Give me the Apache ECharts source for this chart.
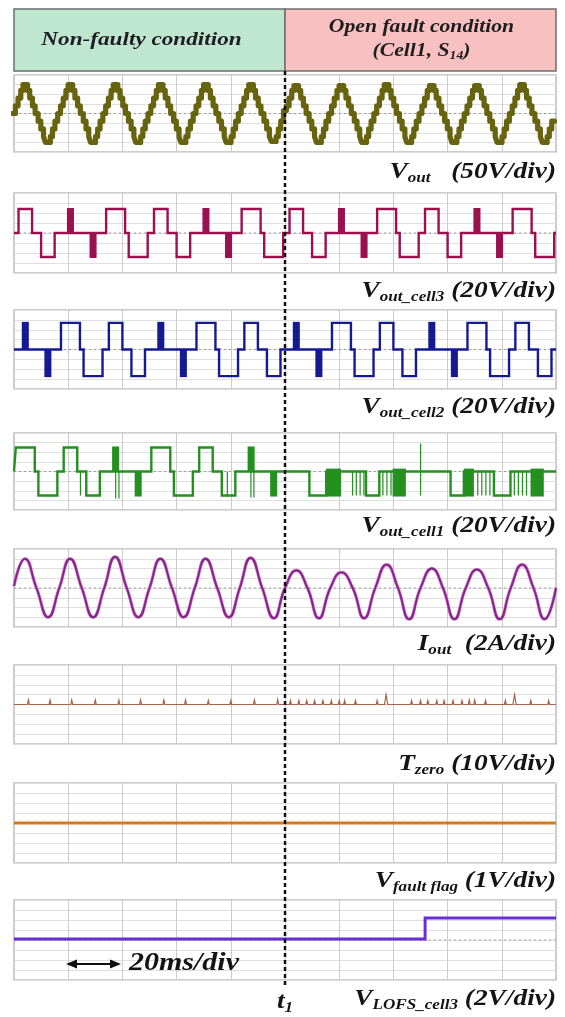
<!DOCTYPE html>
<html><head><meta charset="utf-8">
<script src="https://cdn.jsdelivr.net/npm/echarts@6/dist/echarts.min.js"></script>
<style>html,body{margin:0;padding:0;background:#fff}#c{width:565px;height:1017px}</style>
</head><body><div id="c"></div>
<script>
// ---------- axes ----------
const timeRangeMs = [0, 200];
const msPerDiv = 20;
const divRange = [-4, 4];
const t1Ms = 100;

// ---------- Vout (50 V/div) staircase ----------
const voutPeriodMs = 16.67;
const voutCycleStartMs = [0, 16.67, 33.33, 50, 66.67, 83.33, 100, 116.67, 133.33, 150, 166.67, 183.33];
const voutStepStartMs = [-0.55, 0.5, 1.5, 2.5, 3.3, 5.0, 5.8, 6.8, 7.8, 8.9, 9.9, 10.9, 11.6, 13.4, 14.2, 15.1];
const voutStepLevels = [
  [0, 0.8, 1.6, 2.4, 3.0, 2.4, 1.6, 0.8, 0, -0.8, -1.6, -2.4, -3.0, -2.4, -1.6, -0.8],
  [0, 0.8, 1.6, 2.4, 3.0, 2.4, 1.6, 0.8, 0, -0.8, -1.6, -2.4, -3.0, -2.4, -1.6, -0.8],
  [0, 0.8, 1.6, 2.4, 3.0, 2.4, 1.6, 0.8, 0, -0.8, -1.6, -2.4, -3.0, -2.4, -1.6, -0.8],
  [0, 0.8, 1.6, 2.4, 3.0, 2.4, 1.6, 0.8, 0, -0.8, -1.6, -2.4, -3.0, -2.4, -1.6, -0.8],
  [0, 0.8, 1.6, 2.4, 3.0, 2.4, 1.6, 0.8, 0, -0.8, -1.6, -2.4, -3.0, -2.4, -1.6, -0.8],
  [0, 0.8, 1.6, 2.4, 3.0, 2.4, 1.6, 0.8, 0, -0.8, -1.6, -2.4, -2.9, -2.4, -1.6, -0.8],
  [0.3, 0.8, 1.6, 2.4, 2.9, 2.4, 1.6, 0.8, 0, -0.8, -1.6, -2.4, -3.0, -2.4, -1.6, -0.8],
  [0, 0.8, 1.6, 2.4, 2.9, 2.4, 1.6, 0.8, 0, -0.8, -1.6, -2.4, -3.0, -2.4, -1.6, -0.8],
  [0, 0.8, 1.6, 2.4, 3.0, 2.4, 1.6, 0.8, 0, -0.8, -1.6, -2.4, -3.0, -2.4, -1.6, -0.8],
  [0, 0.8, 1.6, 2.4, 2.9, 2.4, 1.6, 0.8, 0, -0.8, -1.6, -2.4, -3.0, -2.4, -1.6, -0.8],
  [0, 0.8, 1.6, 2.4, 2.9, 2.4, 1.6, 0.8, 0, -0.8, -1.6, -2.4, -3.0, -2.4, -1.6, -0.8],
  [0, 0.8, 1.6, 2.4, 3.0, 2.4, 1.6, 0.8, 0, -0.8, -1.6, -2.4, -3.0, -2.4, -1.6, -0.8]
];

// ---------- cell outputs (20 V/div): solid pulses [startMs, endMs, div] ----------
const cell3Pulses = [
  [1.67, 6.67, 2.4], [10.0, 15.0, -2.4], [34.0, 41.0, 2.4], [42.33, 49.33, -2.4],
  [51.67, 56.67, 2.4], [60.0, 65.0, -2.4], [84.0, 91.0, 2.4], [92.33, 99.33, -2.4],
  [101.67, 106.67, 2.4], [110.0, 115.0, -2.4], [134.0, 141.0, 2.4], [142.33, 149.33, -2.4],
  [151.67, 156.67, 2.4], [160.0, 165.0, -2.4], [184.0, 191.0, 2.4], [192.33, 199.33, -2.4]
];
// PWM / switching blocks [startMs, endMs, lowDiv, highDiv]
const cell3Blocks = [
  [19.53, 22.13, 0, 2.5], [27.87, 30.47, -2.5, 0], [69.53, 72.13, 0, 2.5], [77.87, 80.47, -2.5, 0],
  [119.53, 122.13, 0, 2.5], [127.87, 130.47, -2.5, 0], [169.53, 172.13, 0, 2.5], [177.87, 180.47, -2.5, 0]
];
const cell2Pulses = [
  [17.33, 24.33, 2.7], [25.67, 32.67, -2.7], [35.0, 40.0, 2.7], [43.33, 48.33, -2.7],
  [67.33, 74.33, 2.7], [75.67, 82.67, -2.7], [85.0, 90.0, 2.7], [93.33, 98.33, -2.7],
  [117.33, 124.33, 2.7], [125.67, 132.67, -2.7], [135.0, 140.0, 2.7], [143.33, 148.33, -2.7],
  [167.33, 174.33, 2.7], [175.67, 182.67, -2.7], [185.0, 190.0, 2.7], [193.33, 198.33, -2.7]
];
const cell2Blocks = [
  [2.87, 5.47, 0, 2.8], [11.2, 13.8, -2.8, 0], [52.87, 55.47, 0, 2.8], [61.2, 63.8, -2.8, 0],
  [102.87, 105.47, 0, 2.8], [111.2, 113.8, -2.8, 0], [152.87, 155.47, 0, 2.8], [161.2, 163.8, -2.8, 0]
];
const cell1Pulses = [
  [0.67, 7.67, 2.5], [9.0, 16.0, -2.5], [18.33, 23.33, 2.5], [26.67, 31.67, -2.5],
  [50.67, 57.67, 2.5], [59.0, 66.0, -2.5], [68.33, 73.33, 2.5], [76.67, 81.67, -2.5],
  [109.0, 115.2, -2.5], [129.9, 134.8, -2.5], [161.1, 166.0, -2.5], [177.1, 183.2, -2.5]
];
const cell1Blocks = [
  [36.2, 38.8, 0, 2.6], [44.53, 47.13, -2.6, 0], [86.2, 88.8, 0, 2.6], [94.53, 97.13, -2.6, 0],
  [24.3, 24.6, -2.5, 0], [37.3, 37.6, -2.8, 0], [38.5, 38.8, -2.8, 0], [78.5, 78.8, -2.6, 0],
  [87.2, 87.5, -2.7, 0], [88.3, 88.6, -2.7, 0],
  [115.2, 120.7, -2.6, 0.3], [124.7, 125.0, -2.5, 0], [126.1, 126.4, -2.5, 0], [127.5, 127.8, -2.5, 0],
  [128.9, 129.2, -2.5, 0], [135.9, 136.2, -2.5, 0], [137.4, 137.7, -2.5, 0], [138.9, 139.2, -2.5, 0],
  [139.7, 144.6, -2.6, 0.3], [149.8, 150.1, -2.5, 2.9], [166.0, 169.7, -2.6, 0.3],
  [170.9, 171.2, -2.5, 0], [172.4, 172.7, -2.5, 0], [173.9, 174.2, -2.5, 0], [175.4, 175.7, -2.5, 0],
  [184.4, 184.7, -2.5, 0], [185.9, 186.2, -2.5, 0], [187.4, 187.7, -2.5, 0], [188.9, 189.2, -2.5, 0],
  [190.6, 195.5, -2.6, 0.3]
];

// ---------- Iout (2 A/div) ----------
const ioutTimeMs = [0, 4.0, 8.3, 12.6, 16.7, 20.7, 25.0, 29.2, 33.3, 37.3, 41.6, 45.9, 50.0, 54.0, 58.3, 62.6,
  66.7, 70.7, 75.0, 79.3, 83.3, 87.3, 91.6, 95.9, 100.0, 104.2, 108.3, 112.5, 116.7, 120.8, 125.0, 129.2,
  133.3, 137.5, 141.7, 145.8, 150.0, 154.2, 158.3, 162.5, 166.7, 170.8, 175.0, 179.2, 183.3, 187.5, 191.7, 195.8, 200.0];
const ioutValueDiv = [0.2, 3.0, 0, -3.0, 0, 3.0, 0, -3.0, 0, 3.2, 0, -3.0, 0, 3.0, 0, -3.0,
  0, 3.0, 0, -3.0, 0, 3.1, 0, -3.1, 0, 1.8, 0, -3.1, 0, 1.6, 0, -3.1,
  0, 2.4, 0, -3.2, 0, 2.0, 0, -3.2, 0, 1.9, 0, -3.2, 0, 2.4, 0, -3.2, 0];

// ---------- Tzero (10 V/div) spikes ----------
const tzeroSpikeMs = [5.3, 13.3, 21.3, 30, 38.7, 46.7, 55.3, 63.3, 71.7, 80, 88.7, 97.3,
  102, 105.1, 108, 110.9, 114, 117.1, 120, 122, 126, 130.7, 134, 137.3, 143.3, 146.7, 150, 152.7,
  156, 158.7, 162, 165.3, 168, 170, 174, 178, 181.3, 184.7, 190.7, 197.3];
const tzeroSpikeDiv = [0.45, 0.45, 0.45, 0.45, 0.45, 0.45, 0.45, 0.45, 0.4, 0.4, 0.45, 0.5,
  0.4, 0.4, 0.4, 0.4, 0.4, 0.4, 0.4, 0.4, 0.4, 0.15, 0.4, 1.0, 0.15, 0.4, 0.4, 0.4,
  0.4, 0.4, 0.4, 0.4, 0.45, 0.45, 0.4, 0.15, 0.4, 1.0, 0.4, 0.4];

// ---------- Vfault flag (1 V/div) and VLOFS_cell3 (2 V/div) ----------
const vfaultTimeMs = [0, 200];
const vfaultDiv = [0, 0];
const vlofsTimeMs = [0, 151.7, 151.7, 200];
const vlofsDiv = [0.1, 0.1, 2.2, 2.2];

// ---------- build ----------
const voutData = [];
voutCycleStartMs.forEach((c, k) => {
  voutStepLevels[k].forEach((lv, j) => {
    const s = c + voutStepStartMs[j];
    const e = j < voutStepStartMs.length - 1 ? c + voutStepStartMs[j + 1] : c + voutPeriodMs + voutStepStartMs[0];
    voutData.push([s, lv], [e, lv]);
  });
});
function pulsesToLine(pulses) {
  const pts = [[timeRangeMs[0], 0]];
  pulses.slice().sort((a, b) => a[0] - b[0]).forEach(p => {
    pts.push([p[0], 0], [p[0], p[2]], [p[1], p[2]], [p[1], 0]);
  });
  pts.push([timeRangeMs[1], 0]);
  return pts;
}
const ioutData = ioutTimeMs.map((t, i) => [t, ioutValueDiv[i]]);
const tzeroData = [[0, 0]];
tzeroSpikeMs.forEach((t, i) => {
  const hw = tzeroSpikeDiv[i] > 0.6 ? 0.6 : 0.35;
  tzeroData.push([t - hw, 0], [t, tzeroSpikeDiv[i]], [t + hw, 0]);
});
tzeroData.push([200, 0]);
const vfaultData = vfaultTimeMs.map((t, i) => [t, vfaultDiv[i]]);
const vlofsData = vlofsTimeMs.map((t, i) => [t, vlofsDiv[i]]);

const panels = [
  {top: 75, height: 77}, {top: 193, height: 80}, {top: 310, height: 79}, {top: 433, height: 77},
  {top: 549, height: 78}, {top: 665, height: 79}, {top: 783, height: 80}, {top: 900, height: 80}
];

const grid = panels.map(p => ({left: 14, right: 9, top: p.top, height: p.height, show: true,
  borderColor: '#bdbdbd', borderWidth: 1.5, backgroundColor: '#ffffff'}));
const xAxis = panels.map((p, i) => ({type: 'value', gridIndex: i, min: timeRangeMs[0], max: timeRangeMs[1], interval: msPerDiv,
  axisLabel: {show: false}, axisTick: {show: false}, axisLine: {show: false},
  splitLine: {show: true, lineStyle: {color: '#cbcbcb', width: 1}}}));
const yAxis = panels.map((p, i) => ({type: 'value', gridIndex: i, min: divRange[0], max: divRange[1], interval: 1,
  axisLabel: {show: false}, axisTick: {show: false}, axisLine: {show: false},
  splitLine: {show: true, lineStyle: {color: '#dfdfdf', width: 1}}}));

const series = [];
panels.forEach((p, i) => {
  series.push({type: 'line', xAxisIndex: i, yAxisIndex: i, data: [[0, 0], [200, 0]], symbol: 'none', silent: true, z: 1,
    lineStyle: {color: '#9c9c9c', width: 1, type: [2, 3]}});
});
function lineSeries(i, data, color, width, extra) {
  return Object.assign({type: 'line', xAxisIndex: i, yAxisIndex: i, data, symbol: 'none', showSymbol: false,
    silent: true, z: 3, lineStyle: {color, width, join: 'miter', cap: 'butt'}}, extra || {});
}
function blockSeries(i, data, color) {
  return {type: 'custom', xAxisIndex: i, yAxisIndex: i, data, silent: true, z: 4, clip: true,
    encode: {x: [0, 1], y: [2, 3]},
    renderItem: (params, api) => {
      const a = api.coord([api.value(0), api.value(3)]);
      const b = api.coord([api.value(1), api.value(2)]);
      return {type: 'rect', shape: {x: a[0], y: a[1], width: Math.max(1.2, b[0] - a[0]), height: b[1] - a[1]},
        style: {fill: color}};
    }};
}
series.push(lineSeries(0, voutData, '#67630f', 5.2, {lineStyle: {color: '#67630f', width: 5.2, join: 'round', cap: 'round'}}));
series.push(lineSeries(1, pulsesToLine(cell3Pulses), '#9b1150', 2.4));
series.push(blockSeries(1, cell3Blocks, '#9b1150'));
series.push(lineSeries(2, pulsesToLine(cell2Pulses), '#161a92', 2.4));
series.push(blockSeries(2, cell2Blocks, '#161a92'));
series.push(lineSeries(3, pulsesToLine(cell1Pulses), '#23901f', 2.4));
series.push(blockSeries(3, cell1Blocks, '#23901f'));
series.push(lineSeries(4, ioutData, '#d66ad6', 3.2, {smooth: 0.5, z: 2}));
series.push(lineSeries(4, ioutData, '#7b2a7e', 1.8, {smooth: 0.5}));
series.push(lineSeries(5, tzeroData, '#a8624a', 1.2));
series.push(lineSeries(6, vfaultData, '#e8741e', 3));
series.push(lineSeries(6, vfaultData, '#8a8c2a', 1, {lineStyle: {color: '#8a8c2a', width: 1, type: [3, 5]}, z: 4}));
series.push(lineSeries(7, vlofsData, '#6a2fd4', 3));

const chart = echarts.init(document.getElementById('c'), null, {renderer: 'canvas'});
chart.setOption({animation: false, backgroundColor: '#ffffff', grid, xAxis, yAxis, series});

// ---------- annotations ----------
const serif = '"Liberation Serif", "Times New Roman", serif';
const big = 'italic bold 24px ' + serif;
const small = 'italic bold 15px ' + serif;
const rich = {
  m: {font: big, fill: '#141414', lineHeight: 28, verticalAlign: 'middle'},
  s: {font: small, fill: '#141414', lineHeight: 15, verticalAlign: 'bottom'}
};
const tx = chart.convertToPixel({gridIndex: 0}, [t1Ms, 0])[0];
const stretch = 1.14;
function label(y, main, sub, rest) {
  return {type: 'text', x: 556, y, silent: true, z: 100, scaleX: stretch,
    style: {text: `{m|${main}}{s|${sub}}{m|${rest}}`, rich, align: 'right', verticalAlign: 'middle'}};
}
const hdrFont = 'italic bold 19px ' + serif;
const graphic = [
  {type: 'rect', shape: {x: 14, y: 9, width: tx - 14, height: 62}, style: {fill: '#bfe6d1', stroke: '#6e6e6e', lineWidth: 1.5}, silent: true},
  {type: 'rect', shape: {x: tx, y: 9, width: 556 - tx, height: 62}, style: {fill: '#f8c0c1', stroke: '#6e6e6e', lineWidth: 1.5}, silent: true},
  {type: 'text', x: (14 + tx) / 2 - 8, y: 40, scaleX: 1.22, silent: true, style: {text: 'Non-faulty condition', font: hdrFont, fill: '#1e1e1e', align: 'center', verticalAlign: 'middle'}},
  {type: 'text', x: (tx + 556) / 2 + 1, y: 27, scaleX: 1.14, silent: true, style: {text: 'Open fault condition', font: hdrFont, fill: '#1e1e1e', align: 'center', verticalAlign: 'middle'}},
  {type: 'text', x: (tx + 556) / 2 + 1, y: 51, scaleX: 1.14, silent: true, style: {text: '{h|(Cell1, S}{k|14}{h|)}', align: 'center', verticalAlign: 'middle',
    rich: {h: {font: hdrFont, fill: '#1e1e1e', lineHeight: 22, verticalAlign: 'middle'}, k: {font: 'italic bold 12px ' + serif, fill: '#1e1e1e', lineHeight: 12, verticalAlign: 'bottom'}}}},
  label(172, 'V', 'out', '   (50V/div)'),
  label(291, 'V', 'out_cell3', ' (20V/div)'),
  label(407, 'V', 'out_cell2', ' (20V/div)'),
  label(526, 'V', 'out_cell1', ' (20V/div)'),
  label(644, 'I', 'out', '  (2A/div)'),
  label(764, 'T', 'zero', ' (10V/div)'),
  label(881, 'V', 'fault flag', ' (1V/div)'),
  label(999, 'V', 'LOFS_cell3', ' (2V/div)'),
  {type: 'text', x: tx, y: 1002, scaleX: stretch, silent: true, z: 100, style: {text: '{m|t}{s|1}', rich, align: 'center', verticalAlign: 'middle'}},
  {type: 'line', shape: {x1: tx, y1: 71, x2: tx, y2: 987}, silent: true, z: 90, style: {stroke: '#111', lineWidth: 2.5, lineDash: [4, 3]}},
  {type: 'line', shape: {x1: 72, y1: 964, x2: 114, y2: 964}, silent: true, z: 100, style: {stroke: '#111', lineWidth: 1.8}},
  {type: 'polygon', shape: {points: [[66, 964], [77, 959.5], [77, 968.5]]}, silent: true, z: 100, style: {fill: '#111'}},
  {type: 'polygon', shape: {points: [[121, 964], [110, 959.5], [110, 968.5]]}, silent: true, z: 100, style: {fill: '#111'}},
  {type: 'text', x: 129, y: 964, scaleX: 1.2, silent: true, z: 100, style: {text: '20ms/div', font: 'italic bold 25px ' + serif, fill: '#141414', align: 'left', verticalAlign: 'middle'}}
];
chart.setOption({graphic});
</script>
</body></html>
